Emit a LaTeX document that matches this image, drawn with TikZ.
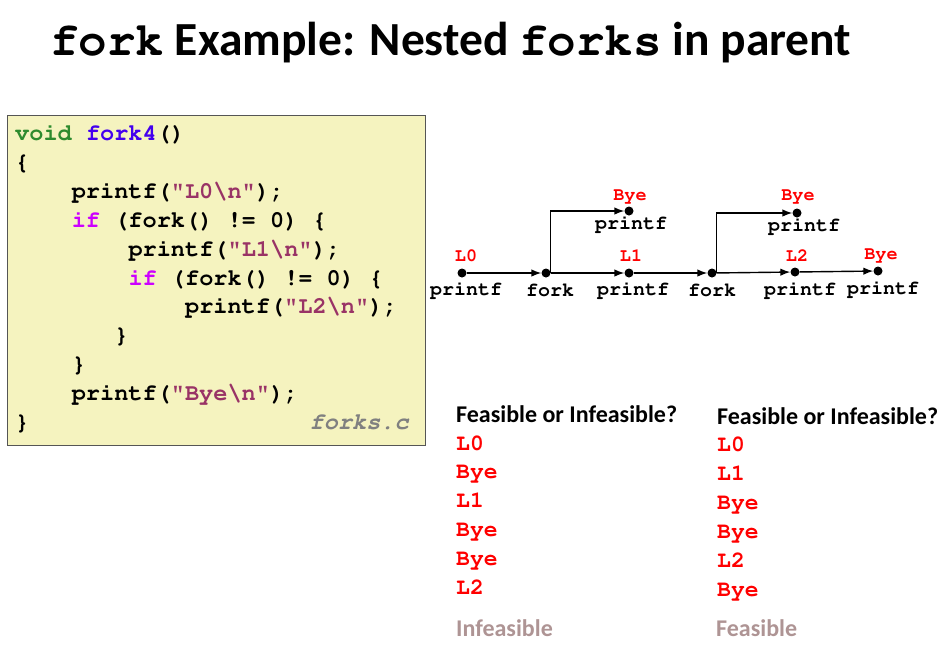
\documentclass[tikz,border=0pt]{standalone}
\usepackage[T1]{fontenc}
\usepackage{fontspec}
\setmainfont{Carlito}
\newcommand{\cour}{\fontencoding{T1}\fontfamily{pcr}\selectfont}
\usetikzlibrary{arrows.meta}
\definecolor{codebg}{HTML}{F5F3BF}
\definecolor{codeframe}{HTML}{555555}
\definecolor{kwgreen}{HTML}{2E8B2E}
\definecolor{fnblue}{HTML}{4400EE}
\definecolor{kwif}{HTML}{CC00FF}
\definecolor{strpurple}{HTML}{993366}
\definecolor{filegray}{HTML}{808080}
\definecolor{outred}{HTML}{FF0000}
\definecolor{verdict}{HTML}{AE9494}
\newcommand{\cfs}{\fontsize{23.6}{28}\selectfont}
\tikzset{
  x=1pt, y=-1pt,
  codeline/.style={anchor=base west, inner sep=0pt, font=\cour\bfseries\cfs},
  dot/.style={circle, fill=black, inner sep=0pt, minimum size=9pt},
  call/.style={inner sep=0pt, font=\cour\bfseries\fontsize{20}{22}\selectfont},
  outlbl/.style={inner sep=0pt, text=outred, font=\cour\bfseries\fontsize{18.5}{20}\selectfont},
  arr/.style={line width=1.4pt, -{Latex[length=10pt,width=7.5pt]}},
  head/.style={anchor=base west, inner sep=0pt, font=\bfseries\fontsize{24}{28}\selectfont},
  outitem/.style={anchor=base west, inner sep=0pt, text=outred, font=\cour\bfseries\fontsize{23}{26}\selectfont},
  verdictlbl/.style={anchor=base west, inner sep=0pt, text=verdict, font=\bfseries\fontsize{24}{28}\selectfont}
}
\begin{document}
\begin{tikzpicture}
\useasboundingbox (0,0) rectangle (941,665);

% title
\node[anchor=base west, inner sep=0pt, font=\bfseries\fontsize{47.5}{52}\selectfont] (title) at (50,55)
  {{\cour fork} Example: Nested {\cour forks} in parent};

% source listing
\node[draw=codeframe, fill=codebg, line width=1.3pt, minimum width=418pt, minimum height=330pt, anchor=north west, inner sep=0pt] (code) at (7,115) {};
\node[codeline] (c1) at (15,140.5) {\textcolor{kwgreen}{void} \textcolor{fnblue}{fork4}()};
\node[codeline] (c2) at (15,169.4) {\{};
\node[codeline] (c3) at (71.6,198.3) {printf(\textcolor{strpurple}{"L0\textbackslash n"});};
\node[codeline] (c4) at (71.6,227.2) {\textcolor{kwif}{if} (fork() != 0) \{};
\node[codeline] (c5) at (128.3,256.1) {printf(\textcolor{strpurple}{"L1\textbackslash n"});};
\node[codeline] (c6) at (128.3,285.0) {\textcolor{kwif}{if} (fork() != 0) \{};
\node[codeline] (c7) at (184.9,313.9) {printf(\textcolor{strpurple}{"L2\textbackslash n"});};
\node[codeline] (c8) at (114.1,342.8) {\}};
\node[codeline] (c9) at (71.6,371.7) {\}};
\node[codeline] (c10) at (71.6,400.6) {printf(\textcolor{strpurple}{"Bye\textbackslash n"});};
\node[codeline] (c11) at (15,429.5) {\}};
\node[codeline, anchor=base east, text=filegray, font=\cour\bfseries\slshape\cfs] (file) at (409,429.5) {forks.c};

% process graph
\node[dot] (p0) at (462,273) {};
\node[dot] (f1) at (546,273) {};
\node[dot] (p1) at (629,273) {};
\node[dot] (f2) at (712,273) {};
\node[dot] (p2) at (795,272) {};
\node[dot] (p3) at (878,271) {};
\node[dot] (b1) at (629,211) {};
\node[dot] (b2) at (797,213) {};

\draw[arr] (p0) -- (f1);
\draw[arr] (f1) -- (p1);
\draw[arr] (p1) -- (f2);
\draw[arr] (f2) -- (p2);
\draw[arr] (p2) -- (p3);
\draw[arr] (f1.east) |- (b1);
\draw[arr] (f2.east) |- (b2);

\node[outlbl] (l0) at (466,256) {L0};
\node[outlbl] (l1) at (631,256) {L1};
\node[outlbl] (l2) at (797,256) {L2};
\node[outlbl] (l3) at (881,256) {Bye};
\node[outlbl] (lb1) at (630,197) {Bye};
\node[outlbl] (lb2) at (798,197) {Bye};

\node[call] (tp0) at (466,290) {printf};
\node[call] (tf1) at (550,290) {fork};
\node[call] (tp1) at (633,290) {printf};
\node[call] (tf2) at (712,290) {fork};
\node[call] (tp2) at (800,290) {printf};
\node[call] (tp3) at (883,289) {printf};
\node[call] (tb1) at (631,224) {printf};
\node[call] (tb2) at (804,226) {printf};

% candidate output orders
\node[head] (h1) at (456,422) {Feasible or Infeasible?};
\node[outitem] (a1) at (456,450) {L0};
\node[outitem] (a2) at (456,478.8) {Bye};
\node[outitem] (a3) at (456,507.6) {L1};
\node[outitem] (a4) at (456,536.4) {Bye};
\node[outitem] (a5) at (456,565.2) {Bye};
\node[outitem] (a6) at (456,594) {L2};
\node[verdictlbl] (v1) at (456,636) {Infeasible};

\node[head] (h2) at (717,424) {Feasible or Infeasible?};
\node[outitem] (b1x) at (717,451) {L0};
\node[outitem] (b2x) at (717,480) {L1};
\node[outitem] (b3x) at (717,509) {Bye};
\node[outitem] (b4x) at (717,538) {Bye};
\node[outitem] (b5x) at (717,567) {L2};
\node[outitem] (b6x) at (717,596) {Bye};
\node[verdictlbl] (v2) at (716,636) {Feasible};
\end{tikzpicture}
\end{document}
